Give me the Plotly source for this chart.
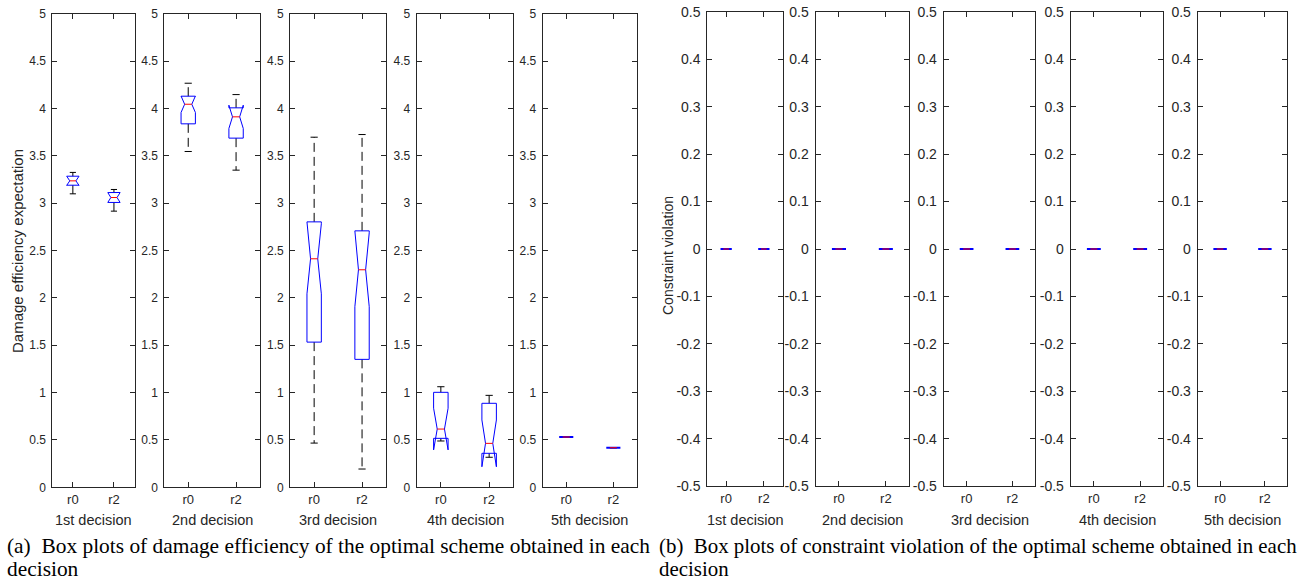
import plotly.graph_objects as go

# ---------------- data ----------------
decisions = ["1st decision", "2nd decision", "3rd decision", "4th decision", "5th decision"]
runs = ["r0", "r2"]
run_pos = [1, 2]

de_tickvals = [0, 0.5, 1, 1.5, 2, 2.5, 3, 3.5, 4, 4.5, 5]
de_ticktext = ["0", "0.5", "1", "1.5", "2", "2.5", "3", "3.5", "4", "4.5", "5"]
cv_tickvals = [-0.5, -0.4, -0.3, -0.2, -0.1, 0, 0.1, 0.2, 0.3, 0.4, 0.5]
cv_ticktext = ["-0.5", "-0.4", "-0.3", "-0.2", "-0.1", "0", "0.1", "0.2", "0.3", "0.4", "0.5"]

# damage efficiency expectation: per decision, [r0, r2]
de_upper = [[3.325, 3.145], [4.267, 4.147], [3.697, 3.725], [1.062, 0.971], [0.531, 0.418]]
de_q3 = [[3.285, 3.113], [4.130, 4.007], [2.803, 2.708], [1.003, 0.887], [0.531, 0.418]]
de_median = [[3.236, 3.060], [4.045, 3.912], [2.413, 2.297], [0.615, 0.464], [0.531, 0.418]]
de_q1 = [[3.190, 3.008], [3.838, 3.687], [1.533, 1.351], [0.517, 0.359], [0.531, 0.418]]
de_lower = [[3.099, 2.916], [3.546, 3.349], [0.467, 0.193], [0.489, 0.317], [0.531, 0.418]]
de_notch = [[0.048, 0.052], [0.087, 0.123], [0.370, 0.390], [0.220, 0.247], [0.0, 0.0]]

# constraint violation: all zero
cv_upper = [[0.0, 0.0]] * 5
cv_q3 = [[0.0, 0.0]] * 5
cv_median = [[0.0, 0.0]] * 5
cv_q1 = [[0.0, 0.0]] * 5
cv_lower = [[0.0, 0.0]] * 5
cv_notch = [[0.0, 0.0]] * 5

# ---------------- layout geometry (pixels) ----------------
W, H = 1312, 581
left_x = [(52.3, 134.5), (164.3, 260.0), (290.2, 386.0), (416.7, 513.3), (542.7, 636.9)]
right_x = [(707.3, 782.7), (815.5, 909.3), (943.7, 1035.3), (1070.7, 1163.3), (1197.7, 1287.3)]
left_y = (13.8, 487.3)
right_y = (11.7, 486.3)

BOX_W = 0.30
AX_COL = "#262626"
FONT = "Liberation Sans, Arial, sans-serif"

fig = go.Figure()


def add_boxes(axn, upper, q3, med, q1, lower, notch):
    xa = "x" if axn == 1 else f"x{axn}"
    ya = "y" if axn == 1 else f"y{axn}"
    h = BOX_W / 2
    h2 = BOX_W / 4
    cap = BOX_W / 4
    for j, p in enumerate(run_pos):
        nlo = med[j] - notch[j]
        nhi = med[j] + notch[j]
        flat = (q3[j] - q1[j]) == 0
        # whiskers (dashed black)
        fig.add_trace(go.Scatter(
            x=[p, p, None, p, p], y=[q3[j], upper[j], None, q1[j], lower[j]],
            mode="lines", line=dict(color="black", width=1, dash="9px,5px"),
            xaxis=xa, yaxis=ya, showlegend=False, hoverinfo="skip"))
        # whisker caps
        fig.add_trace(go.Scatter(
            x=[p - cap, p + cap, None, p - cap, p + cap],
            y=[upper[j], upper[j], None, lower[j], lower[j]],
            mode="lines", line=dict(color="black", width=1),
            xaxis=xa, yaxis=ya, showlegend=False, hoverinfo="skip"))
        # notched box
        bx = [p - h, p - h, p - h2, p - h, p - h, p + h, p + h, p + h2, p + h, p + h, p - h]
        by = [q1[j], nlo, med[j], nhi, q3[j], q3[j], nhi, med[j], nlo, q1[j], q1[j]]
        fig.add_trace(go.Scatter(
            x=bx, y=by, mode="lines",
            line=dict(color="#0000ff", width=2 if flat else 1),
            xaxis=xa, yaxis=ya, showlegend=False, hoverinfo="skip"))
        # median
        fig.add_trace(go.Scatter(
            x=[p - h2, p + h2], y=[med[j], med[j]], mode="lines",
            line=dict(color="#ff0000", width=1),
            xaxis=xa, yaxis=ya, showlegend=False, hoverinfo="skip"))


for i in range(5):
    add_boxes(i + 1, de_upper[i], de_q3[i], de_median[i], de_q1[i], de_lower[i], de_notch[i])
for i in range(5):
    add_boxes(i + 6, cv_upper[i], cv_q3[i], cv_median[i], cv_q1[i], cv_lower[i], cv_notch[i])

layout = dict(
    width=W, height=H, margin=dict(l=0, r=0, t=0, b=0, autoexpand=False),
    paper_bgcolor="white", plot_bgcolor="white", showlegend=False,
    font=dict(family=FONT, color=AX_COL),
)

annotations = []
for k in range(10):
    axn = k + 1
    if k < 5:
        x0, x1 = left_x[k]
        y0, y1 = left_y
        tv, tt, yr, tfs = de_tickvals, de_ticktext, [0, 5], 12
        dname = decisions[k]
    else:
        x0, x1 = right_x[k - 5]
        y0, y1 = right_y
        tv, tt, yr, tfs = cv_tickvals, cv_ticktext, [-0.5, 0.5], 14
        dname = decisions[k - 5]
    xkey = "xaxis" if axn == 1 else f"xaxis{axn}"
    ykey = "yaxis" if axn == 1 else f"yaxis{axn}"
    ya = "y" if axn == 1 else f"y{axn}"
    xa = "x" if axn == 1 else f"x{axn}"
    layout[xkey] = dict(
        domain=[x0 / W, x1 / W], anchor=ya, range=[0.5, 2.5], automargin=False,
        tickvals=run_pos, ticktext=runs, ticks="inside", ticklen=5, tickwidth=1,
        tickcolor=AX_COL, showline=True, linecolor=AX_COL, linewidth=1, mirror="ticks",
        showgrid=False, zeroline=False, fixedrange=True,
        tickfont=dict(family=FONT, size=13, color=AX_COL),
    )
    layout[ykey] = dict(
        domain=[1 - y1 / H, 1 - y0 / H], anchor=xa, range=yr, automargin=False,
        tickvals=tv, ticktext=tt, ticks="inside", ticklen=5, tickwidth=1,
        tickcolor=AX_COL, showline=True, linecolor=AX_COL, linewidth=1, mirror="ticks",
        showgrid=False, zeroline=False, fixedrange=True, ticklabelstandoff=3,
        tickfont=dict(family=FONT, size=tfs, color=AX_COL),
    )
    annotations.append(dict(
        text=dname, xref="paper", yref="paper",
        x=(x0 + x1) / 2 / W, y=1 - 520 / H, xanchor="center", yanchor="middle",
        showarrow=False, font=dict(family=FONT, size=14.5, color=AX_COL)))

# y-axis titles
annotations.append(dict(
    text="Damage efficiency expectation", xref="paper", yref="paper",
    x=17 / W, y=1 - 251 / H, xanchor="center", yanchor="middle", textangle=-90,
    showarrow=False, font=dict(family=FONT, size=15, color=AX_COL)))
annotations.append(dict(
    text="Constraint violation", xref="paper", yref="paper",
    x=668 / W, y=1 - 256 / H, xanchor="center", yanchor="middle", textangle=-90,
    showarrow=False, font=dict(family=FONT, size=14, color=AX_COL)))

# captions
SERIF = "Liberation Serif, Times New Roman, serif"
captions = [
    (5, 21.4, "(a)\u00a0 Box plots of damage efficiency of the optimal scheme obtained in each"),
    (657, 20.9, "(b)\u00a0 Box plots of constraint violation of the optimal scheme obtained in each"),
]
for cx, fs, ctext in captions:
    annotations.append(dict(
        text=ctext, xref="paper", yref="paper", x=cx / W, y=1 - 546 / H,
        xanchor="left", yanchor="middle", showarrow=False,
        font=dict(family=SERIF, size=fs, color="black")))
    annotations.append(dict(
        text="decision", xref="paper", yref="paper", x=cx / W, y=1 - 569 / H,
        xanchor="left", yanchor="middle", showarrow=False,
        font=dict(family=SERIF, size=fs, color="black")))

layout["annotations"] = annotations
fig.update_layout(**layout)

fig.write_html(
    "out.html",
    config={"displayModeBar": False},
    post_script="document.body.style.margin='0';document.body.style.overflow='hidden';",
)
